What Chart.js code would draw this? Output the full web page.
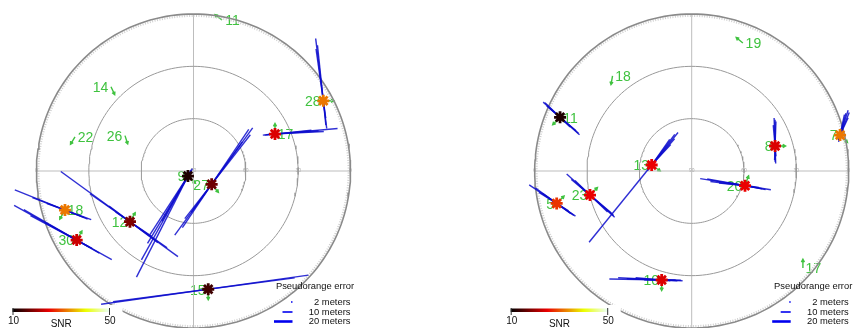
<!DOCTYPE html>
<html>
<head>
<meta charset="utf-8">
<script src="https://cdn.jsdelivr.net/npm/chart.js@4"></script>
<style>
  html, body { margin: 0; padding: 0; background: #fff; }
  #wrap { position: relative; width: 855px; height: 328px; overflow: hidden; }
  canvas { position: absolute; top: 0; }
</style>
</head>
<body>
<div id="wrap">
  <canvas id="skyLeft" width="427" height="328" style="left:0"></canvas>
  <canvas id="skyRight" width="428" height="328" style="left:427px"></canvas>
</div>
<script>
// ---- left sky plot ----
var leftIds   = ['11', '14', '22', '26', '28', '17', '9', '27', '12', '18', '30', '15'];
var leftAz    = [10.7, 315.6, 286.1, 297.3, 61.6, 65.6, 227.7, 126.2, 231.4, 253.1, 239.4, 172.9];
var leftEl    = [1.9, 22.4, 19.3, 45.8, 5.4, 38.7, 85.7, 77.1, 43.4, 13.0, 12.2, 21.7];
var leftSnr   = [null, null, null, null, 32, 24, 12, 17, 18, 32, 23, 14];
var leftTrack = [307, 155, 211, 162, 90, 0, 134, 140, 30, 210, 30, 180];
var leftSide  = [1, -1, 1, -1, -1, 1, -1, -1, -1, 1, -1, -1];
// pseudorange error lines per satellite: [bearing, length behind, length ahead]
var leftErr = [
  [], [], [], [],
  [[353, 16, 36], [354, 14, 32], [352, 10, 30]],
  [[85, 7, 36], [86, 5, 25], [84, 6, 21], [87, 4, 28]],
  [[207, 4, 65], [209, 3, 55], [211, 5, 45], [213, 3, 40], [210, 2, 30]],
  [[36, 36, 40], [34, 30, 38], [38, 25, 36], [36, 20, 30]],
  [[126, 49, 34], [125, 28, 26], [127, 15, 20], [124, 10, 15]],
  [[112, 31, 14], [110, 11, 16], [111, 20, 12]],
  [[119, 41, 23], [120, 35, 15], [118, 30, 10], [119, 20, 8]],
  [[82, 62, 58], [82.5, 55, 50]]
];

// ---- right sky plot ----
var rightIds   = ['19', '18', '11', '7', '8', '13', '20', '23', '5', '10', '17'];
var rightAz    = [21.8, 320.2, 292.2, 76.4, 73.3, 278.5, 105.4, 256.7, 256.5, 195.4, 131.1];
var rightEl    = [11.0, 19.1, 8.5, 2.5, 40.1, 66.8, 58.3, 30.1, 10.4, 25.2, 5.4];
var rightSnr   = [null, null, 12, 32, 24, 25, 25, 25, 28, 24, null];
var rightTrack = [310, 190, 225, 135, 90, 125, 20, 45, 45, 180, 0];
var rightSide  = [1, 1, 1, -1, -1, -1, -1, -1, -1, -1, 1];
var rightErr = [
  [], [],
  [[132, 13, 15], [130, 10, 12], [134, 12, 8], [131, 8, 14]],
  [[18, 3, 15], [22, 2, 14], [15, 3, 13], [25, 2, 11], [12, 4, 12]],
  [[358, 10, 16], [2, 8, 14], [355, 6, 12], [0, 9, 15]],
  [[39, 57, 24], [37, 4, 22], [41, 3, 20], [35, 3, 18], [43, 2, 16]],
  [[99, 26, 15], [97, 20, 8], [100, 22, 10], [96, 15, 5], [101, 10, 12]],
  [[132, 18, 19], [130, 14, 16], [134, 12, 14], [131, 8, 18]],
  [[124, 19, 13], [126, 15, 10], [122, 12, 8], [125, 10, 12]],
  [[91, 30, 11], [93, 25, 9], [92, 20, 12], [95, 15, 5], [90, 10, 8]],
  []
];

var ringZen = [30, 60, 90];
var snrRange = [10, 50];
var legendRows = ['2 meters', '10 meters', '20 meters'];

var K = 157 / 90;           // pixels per degree of zenith distance
var GREEN = '#3fc23f';
var BLUE = 'rgba(10,10,205,0.85)';
var FONT = '"Liberation Sans", Arial, sans-serif';

function rad(d) { return d * Math.PI / 180; }
function sky(az, el) {
  var z = 90 - el;
  return { x: z * Math.sin(rad(az)), y: z * Math.cos(rad(az)) };
}
function ring(z) {
  var pts = [];
  for (var a = 0; a <= 360; a += 2) pts.push({ x: z * Math.sin(rad(a)), y: z * Math.cos(rad(a)) });
  return pts;
}
function hot(snr) {
  var t = Math.max(0, Math.min(1, (snr - snrRange[0]) / (snrRange[1] - snrRange[0])));
  var r = Math.min(1, t / 0.375);
  var g = Math.max(0, Math.min(1, (t - 0.375) / 0.375));
  var b = Math.max(0, Math.min(1, (t - 0.75) / 0.25));
  return 'rgb(' + Math.round(r * 235) + ',' + Math.round(g * 255) + ',' + Math.round(b * 255) + ')';
}

function makePanel(id, centerPx, ids, az, el, snr, track, side, err) {
  var canvas = document.getElementById(id);
  var w = canvas.width, h = canvas.height;
  var datasets = [];

  // satellites (drawn on top)
  var stars = [], starCols = [];
  for (var i = 0; i < ids.length; i++) {
    if (snr[i] === null) continue;
    stars.push(sky(az[i], el[i]));
    starCols.push(hot(snr[i]));
  }
  datasets.push({
    data: stars, showLine: false, pointStyle: 'star', pointRadius: 6,
    pointBorderWidth: 2.8, pointBorderColor: starCols, pointBackgroundColor: starCols,
    order: 0, clip: false
  });

  // pseudorange error lines
  for (i = 0; i < ids.length; i++) {
    var p = sky(az[i], el[i]);
    err[i].forEach(function (e) {
      var dx = Math.sin(rad(e[0])), dy = Math.cos(rad(e[0]));
      datasets.push({
        data: [{ x: p.x - e[1] * dx, y: p.y - e[1] * dy }, { x: p.x + e[2] * dx, y: p.y + e[2] * dy }],
        showLine: true, borderColor: BLUE, borderWidth: 1.4, pointRadius: 0, order: 1, clip: false
      });
    });
  }

  // grid: elevation rings and cross
  ringZen.forEach(function (z) {
    datasets.push({ data: ring(z), showLine: true, borderColor: z === 90 ? '#8a8a8a' : '#999',
      borderWidth: z === 90 ? 1.6 : 1, pointRadius: 0, order: 4, clip: false });
  });
  datasets.push({ data: ring(88.9), showLine: true, borderColor: '#cfcfcf', borderWidth: 2,
    borderDash: [1, 1.5], pointRadius: 0, order: 4, clip: false });
  datasets.push({ data: [{ x: -90, y: 0 }, { x: 90, y: 0 }], showLine: true, borderColor: '#bdbdbd',
    borderWidth: 1, pointRadius: 0, order: 5, clip: false });
  datasets.push({ data: [{ x: 0, y: -90 }, { x: 0, y: 90 }], showLine: true, borderColor: '#bdbdbd',
    borderWidth: 1, pointRadius: 0, order: 5, clip: false });

  var cy = 171;
  var overlay = {
    id: 'skyOverlay',
    beforeDatasetsDraw: function (chart) {
      var ctx = chart.ctx, sx = chart.scales.x, sy = chart.scales.y;
      ctx.save();
      // ring tick marks on the horizontal axis
      ctx.fillStyle = '#a5a5a5';
      ctx.font = '5px ' + FONT;
      ctx.textAlign = 'center';
      ctx.textBaseline = 'middle';
      [[0, '90'], [30, '60'], [60, '30'], [90, '0'], [-90, '0']].forEach(function (t) {
        ctx.fillText(t[1], sx.getPixelForValue(t[0]), sy.getPixelForValue(0));
      });
      // track arrows and labels
      for (var i = 0; i < ids.length; i++) {
        var p = sky(az[i], el[i]);
        var px = sx.getPixelForValue(p.x), py = sy.getPixelForValue(p.y);
        var len = snr[i] === null ? 5 : 6;
        var tx = sx.getPixelForValue(p.x + len * Math.sin(rad(track[i])));
        var ty = sy.getPixelForValue(p.y + len * Math.cos(rad(track[i])));
        var ang = Math.atan2(ty - py, tx - px);
        ctx.strokeStyle = GREEN;
        ctx.lineWidth = 1.4;
        ctx.beginPath();
        ctx.moveTo(px, py); ctx.lineTo(tx, ty);
        ctx.moveTo(tx - 3.2 * Math.cos(ang - 0.5), ty - 3.2 * Math.sin(ang - 0.5));
        ctx.lineTo(tx, ty);
        ctx.lineTo(tx - 3.2 * Math.cos(ang + 0.5), ty - 3.2 * Math.sin(ang + 0.5));
        ctx.stroke();
        ctx.fillStyle = GREEN;
        ctx.font = '14px ' + FONT;
        ctx.fillText(ids[i], px + side[i] * (2.5 + 4 * ids[i].length), py + 1.5);
      }
      ctx.restore();
    },
    afterDatasetsDraw: function (chart) {
      var ctx = chart.ctx;
      var cx = chart.scales.x.getPixelForValue(0);
      ctx.save();
      // colorbar
      ctx.fillStyle = '#fff';
      ctx.fillRect(cx - 195, 305, 124, 23);
      var x0 = cx - 181, x1 = cx - 83.5;
      var grad = ctx.createLinearGradient(x0, 0, x1, 0);
      for (var s = 0; s <= 16; s++) grad.addColorStop(s / 16, hot(snrRange[0] + (snrRange[1] - snrRange[0]) * s / 16));
      ctx.fillStyle = grad;
      ctx.fillRect(x0, 308.5, x1 - x0, 3.5);
      ctx.strokeStyle = '#333';
      ctx.lineWidth = 1;
      ctx.beginPath();
      ctx.moveTo(x0 + 0.5, 308); ctx.lineTo(x0 + 0.5, 315);
      ctx.moveTo(x1 - 0.5, 308); ctx.lineTo(x1 - 0.5, 315);
      ctx.stroke();
      ctx.fillStyle = '#111';
      ctx.font = '10px ' + FONT;
      ctx.textAlign = 'center';
      ctx.textBaseline = 'middle';
      ctx.fillText(String(snrRange[0]), x0 + 1, 321);
      ctx.fillText(String(snrRange[1]), x1, 321);
      ctx.fillText('SNR', (x0 + x1) / 2, 324);
      // pseudorange legend
      ctx.font = '9.4px ' + FONT;
      ctx.fillText('Pseudorange error', cx + 121.5, 286);
      ctx.textAlign = 'right';
      var rowsY = [302, 312, 321.5];
      legendRows.forEach(function (t, k) { ctx.fillText(t, cx + 157, rowsY[k]); });
      ctx.strokeStyle = '#0000ee';
      ctx.lineCap = 'butt';
      ctx.lineWidth = 1.4;
      ctx.beginPath(); ctx.moveTo(cx + 97.5, rowsY[0]); ctx.lineTo(cx + 99, rowsY[0]); ctx.stroke();
      ctx.lineWidth = 1.6;
      ctx.beginPath(); ctx.moveTo(cx + 89, rowsY[1]); ctx.lineTo(cx + 99, rowsY[1]); ctx.stroke();
      ctx.lineWidth = 2.6;
      ctx.beginPath(); ctx.moveTo(cx + 80.5, rowsY[2]); ctx.lineTo(cx + 99, rowsY[2]); ctx.stroke();
      ctx.restore();
    }
  };

  return new Chart(canvas, {
    type: 'scatter',
    data: { datasets: datasets },
    options: {
      responsive: false,
      animation: false,
      devicePixelRatio: 1,
      layout: { padding: 0, autoPadding: false },
      elements: { line: { tension: 0 } },
      scales: {
        x: { type: 'linear', display: false, min: -centerPx / K, max: (w - centerPx) / K },
        y: { type: 'linear', display: false, min: -(h - cy) / K, max: cy / K }
      },
      plugins: { legend: { display: false }, tooltip: { enabled: false } }
    },
    plugins: [overlay]
  });
}

makePanel('skyLeft', 193.5, leftIds, leftAz, leftEl, leftSnr, leftTrack, leftSide, leftErr);
makePanel('skyRight', 264.7, rightIds, rightAz, rightEl, rightSnr, rightTrack, rightSide, rightErr);
</script>
</body>
</html>
